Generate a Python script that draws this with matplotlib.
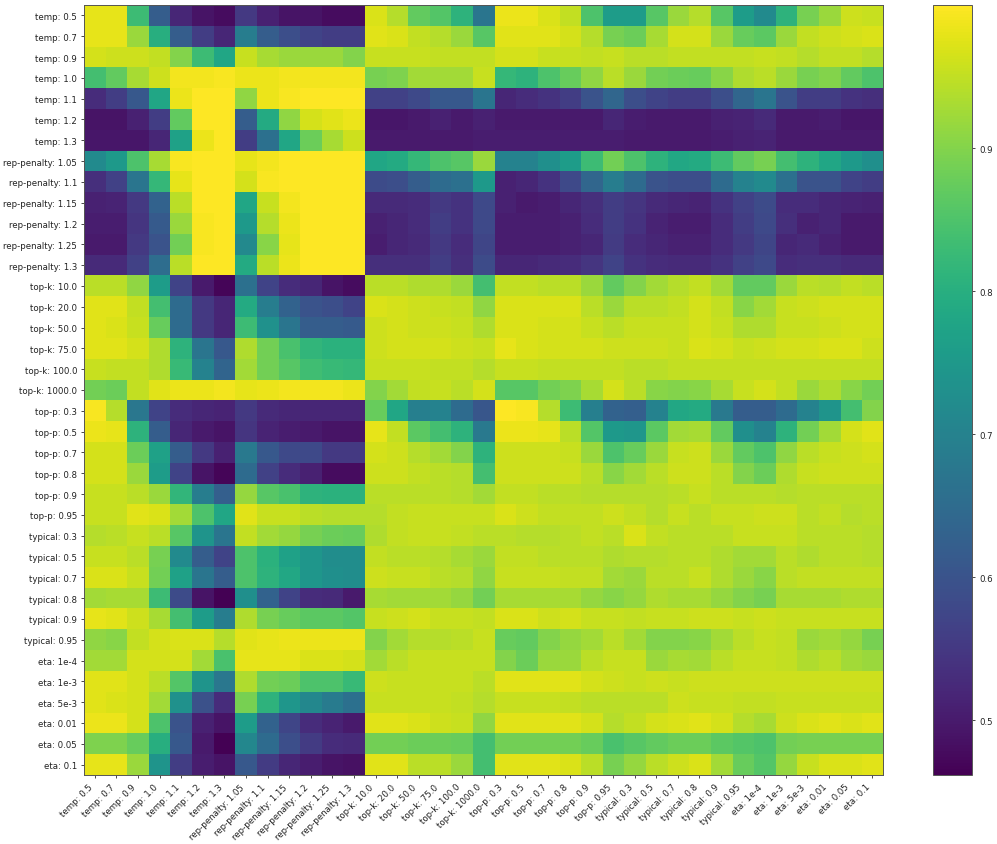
import numpy as np
import matplotlib
matplotlib.use("Agg")
import matplotlib.pyplot as plt

temps = ["0.5", "0.7", "0.9", "1.0", "1.1", "1.2", "1.3"]
penalties = ["1.05", "1.1", "1.15", "1.2", "1.25", "1.3"]
top_ks = ["10.0", "20.0", "50.0", "75.0", "100.0", "1000.0"]
top_ps = ["0.3", "0.5", "0.7", "0.8", "0.9", "0.95"]
typicals = ["0.3", "0.5", "0.7", "0.8", "0.9", "0.95"]
etas = ["1e-4", "1e-3", "5e-3", "0.01", "0.05", "0.1"]

# values, one row per setting
temp_rows = [
    [.98, .98, .83, .62, .52, .49, .48, .55, .51, .49, .49, .48, .48, .97, .94, .87, .855, .81, .67, .985, .985, .97, .95, .85, .76, .76, .86, .92, .94, .86, .76, .72, .81, .89, .92, .96, .955],
    [.98, .98, .92, .80, .62, .56, .52, .69, .62, .59, .57, .56, .56, .975, .97, .95, .94, .92, .86, .975, .975, .975, .965, .94, .89, .88, .93, .965, .965, .92, .875, .865, .92, .95, .96, .965, .97],
    [.965, .96, .96, .95, .90, .83, .78, .955, .93, .92, .92, .92, .90, .955, .955, .955, .95, .95, .95, .965, .965, .955, .955, .95, .955, .945, .945, .95, .95, .95, .95, .955, .95, .94, .95, .95, .94],
    [.84, .87, .93, .96, .99, .99, .995, .985, .985, .99, .99, .99, .99, .89, .895, .925, .925, .925, .955, .82, .81, .85, .875, .91, .945, .92, .885, .88, .875, .905, .935, .945, .92, .89, .90, .87, .85],
    [.53, .56, .61, .78, .985, 1.0, 1.0, .91, .985, .995, 1.0, 1.0, 1.0, .565, .565, .58, .61, .61, .67, .52, .53, .54, .56, .60, .64, .59, .57, .56, .56, .59, .64, .67, .60, .56, .56, .54, .535],
    [.49, .49, .51, .56, .87, 1.0, 1.0, .62, .79, .91, .965, .975, .985, .495, .495, .50, .51, .50, .51, .50, .50, .50, .50, .50, .52, .505, .50, .50, .50, .51, .515, .525, .50, .50, .505, .495, .495],
    [.495, .495, .495, .52, .77, .985, 1.0, .56, .66, .78, .88, .93, .96, .50, .50, .50, .50, .50, .505, .505, .505, .505, .505, .505, .505, .50, .50, .50, .50, .505, .51, .515, .50, .50, .50, .50, .50],
]
penalty_rows = [
    [.72, .75, .85, .93, .995, 1.0, 1.0, .98, .99, 1.0, 1.0, 1.0, 1.0, .78, .79, .82, .85, .86, .92, .70, .70, .73, .76, .83, .885, .85, .81, .785, .79, .83, .87, .89, .84, .81, .78, .75, .73],
    [.535, .565, .67, .82, .98, 1.0, 1.0, .965, .995, 1.0, 1.0, 1.0, 1.0, .585, .59, .62, .65, .66, .75, .51, .52, .54, .58, .64, .69, .65, .60, .59, .59, .65, .70, .72, .66, .60, .60, .57, .56],
    [.51, .515, .55, .63, .945, 1.0, 1.0, .78, .955, .99, 1.0, 1.0, 1.0, .525, .525, .53, .55, .54, .58, .51, .50, .505, .52, .535, .56, .545, .525, .52, .515, .54, .565, .585, .53, .53, .52, .515, .51],
    [.505, .505, .545, .615, .92, .995, 1.0, .75, .94, .985, 1.0, 1.0, 1.0, .51, .52, .53, .56, .54, .58, .505, .505, .505, .51, .53, .56, .54, .515, .505, .505, .53, .56, .58, .535, .51, .52, .50, .50],
    [.50, .50, .55, .60, .885, .995, 1.0, .715, .905, .98, 1.0, 1.0, 1.0, .505, .52, .525, .55, .53, .575, .505, .505, .505, .51, .52, .555, .53, .52, .51, .51, .53, .55, .575, .52, .525, .51, .50, .50],
    [.525, .525, .565, .655, .945, 1.0, 1.0, .79, .945, .985, 1.0, 1.0, 1.0, .535, .535, .535, .56, .535, .585, .52, .52, .525, .53, .545, .57, .54, .53, .525, .525, .54, .565, .58, .53, .535, .535, .525, .525],
]
top_k_rows = [
    [.945, .945, .91, .76, .57, .50, .47, .66, .57, .53, .52, .49, .48, .945, .945, .935, .935, .92, .84, .95, .95, .945, .945, .92, .87, .90, .925, .94, .95, .925, .87, .87, .92, .945, .94, .95, .945],
    [.975, .975, .95, .84, .65, .55, .52, .79, .69, .63, .60, .59, .57, .97, .965, .96, .955, .95, .91, .97, .97, .97, .97, .945, .92, .945, .945, .95, .965, .95, .905, .925, .955, .96, .965, .965, .965],
    [.975, .97, .955, .875, .65, .55, .52, .83, .735, .67, .62, .62, .615, .96, .965, .96, .96, .955, .935, .97, .97, .965, .965, .955, .945, .955, .955, .955, .965, .955, .935, .935, .955, .955, .96, .965, .965],
    [.975, .975, .965, .935, .81, .67, .61, .935, .885, .845, .815, .805, .805, .96, .965, .965, .965, .96, .955, .98, .97, .965, .965, .965, .96, .96, .96, .955, .97, .965, .955, .96, .965, .965, .97, .97, .96],
    [.955, .95, .95, .935, .825, .70, .635, .925, .885, .86, .835, .825, .82, .955, .955, .955, .95, .95, .94, .955, .955, .95, .95, .95, .95, .945, .945, .95, .95, .95, .95, .95, .95, .95, .95, .95, .95],
    [.885, .88, .95, .975, .985, .985, .99, .98, .985, .99, .99, .99, .985, .90, .925, .95, .955, .945, .965, .86, .86, .885, .895, .93, .965, .945, .905, .90, .905, .93, .955, .965, .95, .92, .935, .905, .885],
]
top_p_rows = [
    [.995, .94, .675, .57, .53, .52, .515, .55, .525, .52, .52, .52, .52, .875, .78, .695, .70, .65, .605, 1.0, .995, .94, .83, .695, .63, .625, .70, .785, .79, .68, .62, .62, .65, .70, .74, .84, .90],
    [.985, .98, .81, .62, .52, .50, .49, .545, .515, .505, .50, .49, .49, .98, .95, .865, .84, .81, .68, .985, .985, .98, .945, .855, .75, .745, .865, .925, .93, .87, .73, .70, .81, .885, .925, .965, .975],
    [.965, .965, .88, .77, .62, .55, .51, .68, .61, .58, .58, .55, .55, .965, .96, .94, .925, .90, .81, .96, .96, .96, .955, .92, .85, .875, .92, .955, .96, .92, .87, .85, .91, .945, .955, .96, .965],
    [.965, .965, .92, .76, .57, .49, .47, .65, .565, .53, .51, .48, .48, .96, .96, .95, .945, .94, .84, .96, .96, .96, .96, .945, .905, .925, .945, .96, .96, .945, .90, .88, .935, .955, .96, .96, .96],
    [.955, .955, .945, .92, .815, .69, .625, .915, .86, .845, .81, .805, .805, .945, .945, .945, .945, .94, .925, .95, .95, .945, .945, .94, .94, .94, .94, .945, .955, .945, .945, .945, .94, .945, .945, .945, .945],
    [.955, .955, .975, .97, .925, .85, .78, .975, .955, .955, .945, .94, .94, .94, .95, .955, .955, .955, .955, .97, .96, .95, .95, .95, .96, .95, .94, .955, .945, .955, .955, .96, .96, .945, .95, .94, .945],
]
typical_rows = [
    [.94, .945, .955, .945, .86, .74, .67, .95, .925, .915, .89, .88, .875, .935, .95, .955, .955, .95, .945, .945, .94, .94, .945, .95, .945, .97, .95, .945, .945, .945, .955, .955, .955, .945, .945, .945, .94],
    [.955, .955, .945, .89, .72, .62, .57, .85, .805, .77, .745, .725, .725, .95, .945, .945, .94, .93, .92, .95, .95, .945, .945, .945, .935, .94, .94, .945, .945, .935, .925, .925, .945, .935, .945, .945, .94],
    [.97, .97, .955, .885, .77, .67, .62, .85, .81, .785, .745, .73, .725, .96, .955, .955, .945, .94, .91, .955, .955, .955, .95, .95, .925, .92, .945, .945, .955, .935, .92, .905, .945, .95, .95, .95, .95],
    [.925, .93, .93, .83, .585, .49, .46, .73, .63, .57, .53, .525, .50, .93, .925, .925, .925, .915, .885, .93, .93, .93, .93, .915, .905, .915, .935, .93, .93, .915, .90, .89, .93, .93, .93, .935, .935],
    [.98, .975, .96, .93, .84, .76, .69, .935, .89, .875, .865, .865, .855, .955, .96, .965, .955, .955, .95, .97, .97, .96, .965, .955, .955, .95, .955, .955, .96, .96, .955, .96, .955, .955, .955, .955, .955],
    [.91, .905, .95, .965, .97, .97, .94, .975, .98, .985, .985, .985, .985, .90, .925, .94, .94, .945, .955, .875, .87, .90, .915, .925, .945, .925, .90, .90, .905, .925, .945, .955, .95, .92, .925, .915, .89],
]
eta_rows = [
    [.925, .925, .965, .965, .965, .925, .845, .98, .98, .98, .97, .97, .965, .925, .945, .955, .955, .955, .955, .90, .88, .92, .92, .945, .955, .955, .92, .93, .925, .945, .955, .955, .95, .935, .945, .925, .92],
    [.975, .975, .965, .945, .855, .74, .675, .935, .885, .88, .85, .85, .825, .96, .955, .955, .955, .955, .945, .975, .975, .975, .975, .965, .96, .955, .96, .955, .96, .96, .96, .96, .96, .96, .96, .96, .96],
    [.975, .97, .965, .925, .735, .595, .53, .89, .81, .745, .71, .685, .66, .955, .955, .955, .955, .95, .94, .955, .955, .955, .95, .945, .945, .945, .945, .96, .955, .955, .95, .95, .955, .955, .955, .955, .955],
    [.985, .985, .965, .85, .60, .51, .49, .76, .63, .575, .53, .515, .50, .975, .975, .97, .96, .955, .91, .975, .975, .975, .975, .965, .94, .95, .965, .97, .975, .965, .94, .93, .96, .97, .975, .97, .975],
    [.895, .895, .875, .80, .61, .50, .46, .71, .65, .59, .555, .53, .525, .885, .885, .88, .88, .875, .84, .885, .885, .885, .885, .875, .845, .86, .87, .88, .88, .865, .855, .85, .885, .89, .89, .89, .89],
    [.98, .98, .92, .74, .56, .505, .49, .61, .555, .52, .505, .49, .485, .975, .975, .945, .945, .92, .84, .975, .975, .975, .97, .945, .89, .915, .945, .96, .97, .925, .875, .855, .915, .955, .97, .97, .975],
]
cbar_ticks = [0.5, 0.6, 0.7, 0.8, 0.9]

labels = ["temp: " + v for v in temps]
labels += ["rep-penalty: " + v for v in penalties]
labels += ["top-k: " + v for v in top_ks]
labels += ["top-p: " + v for v in top_ps]
labels += ["typical: " + v for v in typicals]
labels += ["eta: " + v for v in etas]

matrix = np.array(temp_rows + penalty_rows + top_k_rows + top_p_rows + typical_rows + eta_rows)

W, H = 997, 845
fig = plt.figure(figsize=(W / 100, H / 100), dpi=100)
ax = fig.add_axes([84 / W, 1 - 776 / H, 799 / W, 770 / H])
cax = fig.add_axes([933 / W, 1 - 776 / H, 39 / W, 770 / H])

im = ax.imshow(matrix, cmap="viridis", vmin=0.4616, vmax=1.0, aspect="auto", interpolation="nearest")
ax.set_xticks(np.arange(len(labels)))
ax.set_yticks(np.arange(len(labels)))
ax.set_xticklabels(labels, rotation=45, ha="right", fontsize=6.2, color="#222222")
ax.set_yticklabels(labels, fontsize=6.2, color="#222222")
ax.tick_params(length=2.5, width=0.5, pad=2.5)

cb = fig.colorbar(im, cax=cax)
cb.set_ticks(cbar_ticks)
cb.ax.tick_params(length=2.5, width=0.5, pad=2.5, labelsize=6.2, labelcolor="#222222")
for a in [ax, cax]:
    for s in a.spines.values():
        s.set_linewidth(0.7)
        s.set_color("#555555")

fig.savefig("out.png", dpi=100)
